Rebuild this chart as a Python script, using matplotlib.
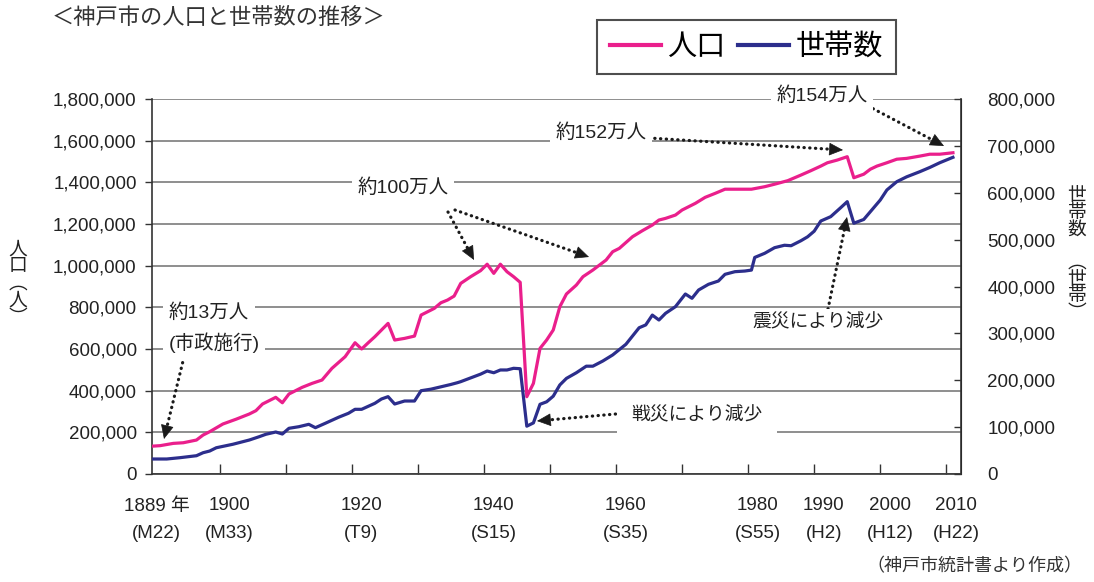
import math
import matplotlib
matplotlib.use('Agg')
import matplotlib.pyplot as plt
import matplotlib.transforms as mtransforms
from matplotlib.ticker import FuncFormatter, MultipleLocator

plt.rcParams['font.family'] = ['Liberation Sans', 'Noto Sans CJK JP']

# ---------------- data ----------------
pop_years = [1889, 1890, 1892, 1893.5, 1895.5, 1896.5, 1897.5, 1899.5, 1901.5, 1903.5,
             1904.5, 1905.5, 1907.5, 1908.5, 1909.5, 1911.5, 1913, 1914.5, 1916, 1918,
             1919.5, 1920.5, 1921.5, 1922.5, 1924.5, 1925.5, 1927, 1928.5, 1929.5, 1931,
             1931.5, 1932.5, 1933.5, 1934.5, 1935.5, 1937, 1938.5, 1939.5, 1940.5, 1941.5,
             1942.5, 1943.5, 1944.5, 1945.5, 1946.5, 1947.5, 1948.5, 1949.5, 1950.5, 1951.5,
             1953, 1954, 1955.5, 1956.5, 1957.5, 1958.5, 1959.5, 1961.5, 1963, 1964.5,
             1965.5, 1966.5, 1968, 1969, 1970.5, 1971, 1972.5, 1974, 1975.5, 1977.5,
             1979.5, 1981.5, 1983, 1985, 1987, 1988.5, 1990, 1991, 1992.5, 1994,
             1995, 1996.5, 1997.5, 1998.5, 2000, 2001.5, 2003, 2005, 2006.5, 2008, 2010]
pop_values = [134000, 136000, 147000, 150000, 163000, 187000, 203000, 240000, 263000, 288000,
              304000, 336000, 368000, 342000, 384000, 416000, 435000, 451000, 507000, 563000,
              630000, 600000, 630000, 659000, 723000, 643000, 651000, 662000, 763000, 787000,
              795000, 822000, 835000, 854000, 915000, 947000, 976000, 1007000, 963000, 1007000,
              971000, 947000, 920000, 371000, 435000, 603000, 643000, 691000, 803000, 864000,
              907000, 947000, 979000, 1003000, 1027000, 1067000, 1083000, 1139000, 1168000, 1195000,
              1219000, 1227000, 1243000, 1267000, 1291000, 1299000, 1328000, 1347000, 1367000, 1367000,
              1367000, 1379000, 1391000, 1408000, 1435000, 1456000, 1478000, 1494000, 1507000, 1523000,
              1422000, 1439000, 1463000, 1478000, 1494000, 1511000, 1515000, 1526000, 1535000, 1535000, 1542000]

hh_years = [1889, 1891, 1893, 1895.5, 1896.5, 1897.5, 1898.5, 1901, 1903.5, 1905,
            1906, 1907.5, 1908.5, 1909.5, 1911, 1912.5, 1913.5, 1915, 1917, 1918.5,
            1919.5, 1920.5, 1922.5, 1923.5, 1924.5, 1925.5, 1927, 1928.5, 1929.5, 1931,
            1932.5, 1934, 1935, 1935.5, 1937, 1938.5, 1939.5, 1940.5, 1941.5, 1942.5,
            1943.5, 1944.5, 1945.5, 1946.5, 1947.5, 1948.5, 1949.5, 1950.5, 1951.5, 1953,
            1954.5, 1955.5, 1957, 1958.5, 1960.5, 1962.5, 1963.5, 1964.5, 1965.5, 1966.5,
            1968, 1969.5, 1970.5, 1971.5, 1973, 1974.5, 1975.5, 1977, 1978.5, 1979.5,
            1980, 1981.5, 1983, 1984.5, 1985.5, 1987, 1988, 1989, 1990, 1991.5,
            1993, 1994, 1995, 1996.5, 1997.5, 1999, 2000, 2001.5, 2003, 2005,
            2006.5, 2008, 2010]
hh_values = [32000, 32000, 34800, 39000, 45400, 49000, 56000, 63400, 72500, 79600,
             84700, 89600, 85300, 97500, 100900, 106000, 98800, 108200, 121000, 129500,
             138000, 138000, 150800, 160000, 165000, 149300, 155700, 155700, 177700, 181000,
             186000, 191000, 194800, 197000, 205000, 213000, 219700, 216000, 221900, 221900,
             225500, 224600, 102000, 109000, 148700, 154000, 166000, 190000, 204000, 216000,
             230000, 230000, 241000, 254000, 276700, 312000, 318000, 339000, 328500, 342800,
             357000, 384000, 374800, 392500, 404700, 411700, 426000, 431600, 433000, 435000,
             462000, 470800, 482800, 488000, 487000, 497700, 506000, 518000, 539700, 549000,
             568000, 581000, 535000, 543000, 559600, 584500, 605900, 623600, 634000, 645000,
             654000, 664000, 675600]

label_years = [1889, 1900, 1920, 1940, 1960, 1980, 1990, 2000, 2010]
year_labels = ['1889 年', '1900', '1920', '1940', '1960', '1980', '1990', '2000', '2010']
era_labels = ['(M22)', '(M33)', '(T9)', '(S15)', '(S35)', '(S55)', '(H2)', '(H12)', '(H22)']
minor_tick_years = [1899, 1909, 1919, 1929, 1939, 1949, 1959, 1969, 1979, 1989, 1999, 2009]

series_names = ['人口', '世帯数']

# ---------------- style ----------------
PINK = '#EA1F8C'
BLUE = '#2C2E8C'
GRID = '#8e8e8e'
DARK = '#1a1a1a'

W, H = 1094, 582
fig = plt.figure(figsize=(W / 100, H / 100), dpi=100)
ax = fig.add_axes([152 / W, 1 - 474 / H, (961 - 152) / W, (474 - 99) / H])

ax.set_xlim(1888.77, 2011.22)
ax.set_ylim(0, 1800000)
ax.set_yticks(range(0, 1800001, 200000))
ax.yaxis.set_major_formatter(FuncFormatter(lambda v, p: f'{int(v):,}'))
ax.grid(axis='y', color=GRID, lw=1.4)
for t in ax.yaxis.get_major_ticks():
    if t.get_loc() in (800000, 1000000):
        t.gridline.set_color('black')
        t.gridline.set_linewidth(1.0)
ax.set_axisbelow(True)
ax.set_xticks(minor_tick_years)
ax.set_xticklabels([])
ax.tick_params(axis='x', direction='in', length=7, width=1, color='#333333')
ax.tick_params(axis='y', direction='out', length=5, width=1, labelsize=13.5, pad=6,
               color='#333333', labelcolor='#222222')
ax.spines['top'].set_visible(False)
for s in ['left', 'bottom']:
    ax.spines[s].set_color('#333333')
    ax.spines[s].set_linewidth(1.2)

l1, = ax.plot(pop_years, pop_values, color=PINK, lw=2.3, zorder=3, label=series_names[0])

ax2 = ax.twinx()
ax2.set_ylim(0, 800000)
ax2.yaxis.set_major_locator(MultipleLocator(100000))
ax2.yaxis.set_major_formatter(FuncFormatter(lambda v, p: f'{int(v):,}'))
ax2.tick_params(axis='y', direction='in', length=5, width=1, labelsize=13.5, pad=19,
                color='#333333', labelcolor='#222222')
for s in ['top', 'left', 'bottom']:
    ax2.spines[s].set_visible(False)
ax2.spines['right'].set_color('#333333')
ax2.spines['right'].set_linewidth(1.2)
l2, = ax2.plot(hh_years, hh_values, color=BLUE, lw=2.3, zorder=3, label=series_names[1])

# x labels (years + era names)
trans = mtransforms.blended_transform_factory(ax.transData, fig.transFigure)
trans = mtransforms.offset_copy(trans, fig=fig, x=3, y=0, units='dots')
for yr, lab, era in zip(label_years, year_labels, era_labels):
    fig.text(yr, 1 - 506 / H, lab, transform=trans, ha='center', va='center',
             fontsize=13.5, color='#222222')
    fig.text(yr, 1 - 534 / H, era, transform=trans, ha='center', va='center',
             fontsize=13.5, color='#222222')

# titles and axis labels
fig.text(52 / W, 1 - 18 / H, '＜神戸市の人口と世帯数の推移＞', ha='left', va='center',
         fontsize=16, color='#333333')
fig.text(1082 / W, 1 - 567 / H, '（神戸市統計書より作成）', ha='right', va='center',
         fontsize=13, color='#333333')
fig.text(18 / W, 1 - 284 / H, '人\n口\n︵\n人\n︶', ha='center', va='center',
         fontsize=13.5, linespacing=1.0, color='#222222')
fig.text(1077 / W, 1 - 255 / H, '世\n帯\n数\n\n︵\n世\n帯\n︶', ha='center', va='center',
         fontsize=13.5, linespacing=0.98, color='#222222')

# legend
leg = fig.legend(handles=[l1, l2], loc='upper left', bbox_to_anchor=(597 / W, 1 - 20 / H),
                 ncol=2, fontsize=21, handlelength=1.75, handletextpad=0.2,
                 columnspacing=0.45, borderpad=0.45, borderaxespad=0, frameon=True,
                 fancybox=False)
leg.get_frame().set_edgecolor('#222222')
leg.get_frame().set_linewidth(1.5)
for line in leg.get_lines():
    line.set_linewidth(3)


# annotations (figure pixel positions measured from top-left)
def P(x, y):
    return (x, H - y)


def note(x, y, s, size=14, padx=0.3):
    fig.text(x / W, 1 - y / H, s, ha='center', va='center', fontsize=size, color='#222222',
             bbox=dict(facecolor='white', edgecolor='none', pad=padx * size))


def dotted_arrow(x0, y0, x1, y1):
    ax2.annotate('', xy=P(x1, y1), xytext=P(x0, y0), xycoords='figure pixels',
                 textcoords='figure pixels',
                 arrowprops=dict(arrowstyle='-', lw=2.3, ls=(0, (0.1, 1.7)), capstyle='round',
                                 color=DARK, shrinkA=0, shrinkB=7))
    L = math.hypot(x1 - x0, y1 - y0)
    ux, uy = (x1 - x0) / L, (y1 - y0) / L
    ax2.annotate('', xy=P(x1, y1), xytext=P(x1 - 3 * ux, y1 - 3 * uy), xycoords='figure pixels',
                 textcoords='figure pixels',
                 arrowprops=dict(arrowstyle='-|>,head_length=0.65,head_width=0.3', lw=0.5,
                                 color=DARK, shrinkA=0, shrinkB=0, mutation_scale=14))


note(209, 313, '約13万人')
note(214, 343, '(市政施行)')
note(403, 188, '約100万人')
note(601, 133, '約152万人')
note(822, 96, '約154万人')
note(818, 323, '震災により減少', size=13.5)
note(697, 416, '戦災により減少', size=13.5, padx=0.75)

dotted_arrow(184, 357, 164, 439)
dotted_arrow(448, 212, 474, 260)
dotted_arrow(455, 210, 589, 257)
dotted_arrow(649, 138, 843, 150)
dotted_arrow(868, 106, 944, 146)
dotted_arrow(828, 309, 847, 217)
dotted_arrow(627, 413, 537, 421)

fig.savefig('out.png', dpi=100)
